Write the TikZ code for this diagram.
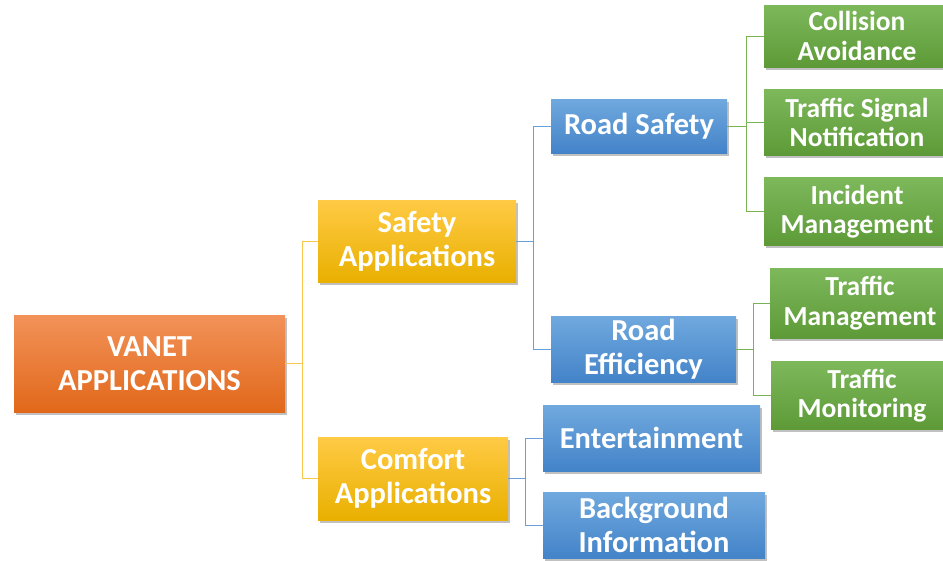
\documentclass[tikz,border=0pt]{standalone}
\usepackage{fontspec}
\setmainfont{Carlito}
\usetikzlibrary{shadows}

\definecolor{orangetop}{HTML}{F29259}
\definecolor{orangebot}{HTML}{E1681A}
\definecolor{yellowtop}{HTML}{FFCA45}
\definecolor{yellowbot}{HTML}{E9B000}
\definecolor{bluetop}{HTML}{70A9DE}
\definecolor{bluebot}{HTML}{4383C9}
\definecolor{greentop}{HTML}{7DB85B}
\definecolor{greenbot}{HTML}{5D9A37}
\definecolor{yellowline}{HTML}{FAC74E}
\definecolor{blueline}{HTML}{6A9FD8}
\definecolor{greenline}{HTML}{7AB356}

\tikzset{
  box/.style={rectangle, inner sep=0pt, align=center, text=white,
    font=\bfseries\fontsize{30.5}{34}\selectfont,
    drop shadow={shadow xshift=2pt, shadow yshift=-2.5pt, opacity=0.35, fill=black!70}},
  rootbox/.style={box, top color=orangetop, bottom color=orangebot},
  groupbox/.style={box, top color=yellowtop, bottom color=yellowbot},
  appbox/.style={box, top color=bluetop, bottom color=bluebot},
  leafbox/.style={box, top color=greentop, bottom color=greenbot,
    font=\bfseries\fontsize{27.5}{29.5}\selectfont},
  branch/.style={line width=1.5pt, to path={-- ++(#1,0) |- (\tikztotarget)}},
  branch/.default=17,
}

\begin{document}
\begin{tikzpicture}[x=1pt, y=-1pt]
  %%%%% START %%%%%
  \useasboundingbox[fill=white] (0,0) rectangle (943,560);

  % root
  \node[rootbox, minimum width=271pt, minimum height=97pt] (vanet) at (149.5,363.5) {VANET\\APPLICATIONS};

  % application groups
  \node[groupbox, minimum width=198pt, minimum height=82pt] (safety) at (417,241) {Safety\\Applications};
  \node[groupbox, minimum width=190pt, minimum height=83pt] (comfort) at (413,478.5) {Comfort\\Applications};

  % safety branches
  \node[appbox, minimum width=176pt, minimum height=54pt] (roadsafety) at (639,126) {Road Safety};
  \node[appbox, minimum width=185pt, minimum height=66pt] (roadeff) at (643.5,349) {Road\\Efficiency};

  % comfort branches
  \node[appbox, minimum width=217pt, minimum height=66pt] (entertain) at (651.5,438) {Entertainment};
  \node[appbox, minimum width=222pt, minimum height=66pt] (background) at (654,525) {Background\\Information};

  % road safety leaves
  \node[leafbox, minimum width=186pt, minimum height=62pt] (collision) at (857,36) {Collision\\Avoidance};
  \node[leafbox, minimum width=186pt, minimum height=66pt] (signal) at (857,122.5) {Traffic Signal\\Notification};
  \node[leafbox, minimum width=186pt, minimum height=68pt] (incident) at (857,211.5) {Incident\\Management};

  % road efficiency leaves
  \node[leafbox, minimum width=180pt, minimum height=70pt] (trafficmgmt) at (860,303) {Traffic\\Management};
  \node[leafbox, minimum width=182pt, minimum height=68pt] (trafficmon) at (862,395.5) {Traffic\\Monitoring};

  % connectors
  \draw[yellowline] (vanet.east) to[branch] (safety.west)
                    (vanet.east) to[branch] (comfort.west);
  \draw[blueline] (safety.east) to[branch] (roadsafety.west)
                  (safety.east) to[branch] (roadeff.west);
  \draw[blueline] (comfort.east) to[branch] (entertain.west)
                  (comfort.east) to[branch] (background.west);
  \draw[greenline] (roadsafety.east) to[branch=19] (collision.west)
                   (roadsafety.east) to[branch=19] (signal.west)
                   (roadsafety.east) to[branch=19] (incident.west);
  \draw[greenline] (roadeff.east) to[branch] (trafficmgmt.west)
                   (roadeff.east) to[branch] (trafficmon.west);

  %%%%% END %%%%%
\end{tikzpicture}
\end{document}
